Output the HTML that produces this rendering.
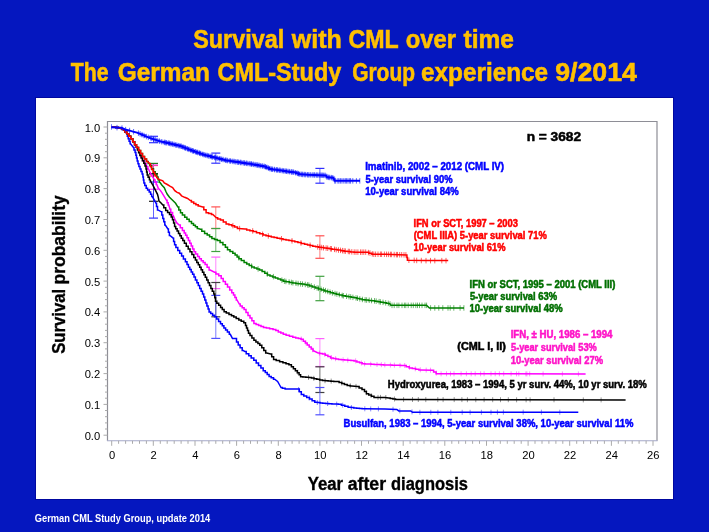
<!DOCTYPE html>
<html><head><meta charset="utf-8"><style>
html,body{margin:0;padding:0;background:#0517bf;width:709px;height:532px;overflow:hidden}
svg{display:block;will-change:transform}
text{font-family:"Liberation Sans",sans-serif}
.tt{font-size:25px;font-weight:bold;fill:#ffc000;stroke:#ffc000;stroke-width:0.55px}
.ft{font-size:10.4px;font-weight:bold;fill:#ffffff}
.tk{font-size:11.2px;fill:#000}
.ax{font-size:18px;font-weight:bold;fill:#000;stroke:#000;stroke-width:0.35px}
.an{font-size:10.3px;font-weight:bold}
.nn{font-size:13px;font-weight:bold}
</style></head><body>
<svg width="709" height="532" viewBox="0 0 709 532">
<rect x="0" y="0" width="709" height="532" fill="#0517bf"/>
<rect x="35.5" y="97.5" width="638" height="402" fill="none" stroke="#0008a0" stroke-width="1"/>
<rect x="36" y="98" width="637" height="401" fill="#ffffff"/>
<text x="193.22" y="47.6" class="tt" fill="#ffc000" textLength="90.92" lengthAdjust="spacingAndGlyphs">Survival</text><text x="291.77" y="47.6" class="tt" fill="#ffc000" textLength="49.99" lengthAdjust="spacingAndGlyphs">with</text><text x="348.45" y="47.6" class="tt" fill="#ffc000" textLength="50.17" lengthAdjust="spacingAndGlyphs">CML</text><text x="405.77" y="47.6" class="tt" fill="#ffc000" textLength="50.19" lengthAdjust="spacingAndGlyphs">over</text><text x="463.48" y="47.6" class="tt" fill="#ffc000" textLength="50.48" lengthAdjust="spacingAndGlyphs">time</text>
<text x="70.76" y="80.5" class="tt" fill="#ffc000" textLength="37.88" lengthAdjust="spacingAndGlyphs">The</text><text x="117.7" y="80.5" class="tt" fill="#ffc000" textLength="92.22" lengthAdjust="spacingAndGlyphs">German</text><text x="217.44" y="80.5" class="tt" fill="#ffc000" textLength="123.85" lengthAdjust="spacingAndGlyphs">CML-Study</text><text x="352.14" y="80.5" class="tt" fill="#ffc000" textLength="62.86" lengthAdjust="spacingAndGlyphs">Group</text><text x="420.95" y="80.5" class="tt" fill="#ffc000" textLength="127.19" lengthAdjust="spacingAndGlyphs">experience</text><text x="555.17" y="80.5" class="tt" fill="#ffc000" textLength="81.68" lengthAdjust="spacingAndGlyphs">9/2014</text>
<text x="34.83" y="522.4" class="ft" fill="#ffffff" textLength="175.41" lengthAdjust="spacingAndGlyphs">German CML Study Group, update 2014</text>
<path d="M107.5 440.8V121.5H657V440.8" fill="none" stroke="#8e8e96" stroke-width="1.2"/><path d="M106.9 440.8H657.6" stroke="#a4a8c8" stroke-width="1.1"/>
<line x1="111.7" y1="440.8" x2="111.7" y2="445.8" stroke="#aaa" stroke-width="1"/><line x1="118.6" y1="440.8" x2="118.6" y2="443.8" stroke="#aaa" stroke-width="1"/><line x1="125.6" y1="440.8" x2="125.6" y2="443.8" stroke="#aaa" stroke-width="1"/><line x1="132.5" y1="440.8" x2="132.5" y2="443.8" stroke="#aaa" stroke-width="1"/><line x1="139.5" y1="440.8" x2="139.5" y2="443.8" stroke="#aaa" stroke-width="1"/><line x1="146.4" y1="440.8" x2="146.4" y2="443.8" stroke="#aaa" stroke-width="1"/><line x1="153.3" y1="440.8" x2="153.3" y2="445.8" stroke="#aaa" stroke-width="1"/><line x1="160.3" y1="440.8" x2="160.3" y2="443.8" stroke="#aaa" stroke-width="1"/><line x1="167.2" y1="440.8" x2="167.2" y2="443.8" stroke="#aaa" stroke-width="1"/><line x1="174.2" y1="440.8" x2="174.2" y2="443.8" stroke="#aaa" stroke-width="1"/><line x1="181.1" y1="440.8" x2="181.1" y2="443.8" stroke="#aaa" stroke-width="1"/><line x1="188.0" y1="440.8" x2="188.0" y2="443.8" stroke="#aaa" stroke-width="1"/><line x1="195.0" y1="440.8" x2="195.0" y2="445.8" stroke="#aaa" stroke-width="1"/><line x1="201.9" y1="440.8" x2="201.9" y2="443.8" stroke="#aaa" stroke-width="1"/><line x1="208.9" y1="440.8" x2="208.9" y2="443.8" stroke="#aaa" stroke-width="1"/><line x1="215.8" y1="440.8" x2="215.8" y2="443.8" stroke="#aaa" stroke-width="1"/><line x1="222.7" y1="440.8" x2="222.7" y2="443.8" stroke="#aaa" stroke-width="1"/><line x1="229.7" y1="440.8" x2="229.7" y2="443.8" stroke="#aaa" stroke-width="1"/><line x1="236.6" y1="440.8" x2="236.6" y2="445.8" stroke="#aaa" stroke-width="1"/><line x1="243.6" y1="440.8" x2="243.6" y2="443.8" stroke="#aaa" stroke-width="1"/><line x1="250.5" y1="440.8" x2="250.5" y2="443.8" stroke="#aaa" stroke-width="1"/><line x1="257.4" y1="440.8" x2="257.4" y2="443.8" stroke="#aaa" stroke-width="1"/><line x1="264.4" y1="440.8" x2="264.4" y2="443.8" stroke="#aaa" stroke-width="1"/><line x1="271.3" y1="440.8" x2="271.3" y2="443.8" stroke="#aaa" stroke-width="1"/><line x1="278.3" y1="440.8" x2="278.3" y2="445.8" stroke="#aaa" stroke-width="1"/><line x1="285.2" y1="440.8" x2="285.2" y2="443.8" stroke="#aaa" stroke-width="1"/><line x1="292.1" y1="440.8" x2="292.1" y2="443.8" stroke="#aaa" stroke-width="1"/><line x1="299.1" y1="440.8" x2="299.1" y2="443.8" stroke="#aaa" stroke-width="1"/><line x1="306.0" y1="440.8" x2="306.0" y2="443.8" stroke="#aaa" stroke-width="1"/><line x1="313.0" y1="440.8" x2="313.0" y2="443.8" stroke="#aaa" stroke-width="1"/><line x1="319.9" y1="440.8" x2="319.9" y2="445.8" stroke="#aaa" stroke-width="1"/><line x1="326.8" y1="440.8" x2="326.8" y2="443.8" stroke="#aaa" stroke-width="1"/><line x1="333.8" y1="440.8" x2="333.8" y2="443.8" stroke="#aaa" stroke-width="1"/><line x1="340.7" y1="440.8" x2="340.7" y2="443.8" stroke="#aaa" stroke-width="1"/><line x1="347.7" y1="440.8" x2="347.7" y2="443.8" stroke="#aaa" stroke-width="1"/><line x1="354.6" y1="440.8" x2="354.6" y2="443.8" stroke="#aaa" stroke-width="1"/><line x1="361.5" y1="440.8" x2="361.5" y2="445.8" stroke="#aaa" stroke-width="1"/><line x1="368.5" y1="440.8" x2="368.5" y2="443.8" stroke="#aaa" stroke-width="1"/><line x1="375.4" y1="440.8" x2="375.4" y2="443.8" stroke="#aaa" stroke-width="1"/><line x1="382.4" y1="440.8" x2="382.4" y2="443.8" stroke="#aaa" stroke-width="1"/><line x1="389.3" y1="440.8" x2="389.3" y2="443.8" stroke="#aaa" stroke-width="1"/><line x1="396.2" y1="440.8" x2="396.2" y2="443.8" stroke="#aaa" stroke-width="1"/><line x1="403.2" y1="440.8" x2="403.2" y2="445.8" stroke="#aaa" stroke-width="1"/><line x1="410.1" y1="440.8" x2="410.1" y2="443.8" stroke="#aaa" stroke-width="1"/><line x1="417.1" y1="440.8" x2="417.1" y2="443.8" stroke="#aaa" stroke-width="1"/><line x1="424.0" y1="440.8" x2="424.0" y2="443.8" stroke="#aaa" stroke-width="1"/><line x1="430.9" y1="440.8" x2="430.9" y2="443.8" stroke="#aaa" stroke-width="1"/><line x1="437.9" y1="440.8" x2="437.9" y2="443.8" stroke="#aaa" stroke-width="1"/><line x1="444.8" y1="440.8" x2="444.8" y2="445.8" stroke="#aaa" stroke-width="1"/><line x1="451.8" y1="440.8" x2="451.8" y2="443.8" stroke="#aaa" stroke-width="1"/><line x1="458.7" y1="440.8" x2="458.7" y2="443.8" stroke="#aaa" stroke-width="1"/><line x1="465.6" y1="440.8" x2="465.6" y2="443.8" stroke="#aaa" stroke-width="1"/><line x1="472.6" y1="440.8" x2="472.6" y2="443.8" stroke="#aaa" stroke-width="1"/><line x1="479.5" y1="440.8" x2="479.5" y2="443.8" stroke="#aaa" stroke-width="1"/><line x1="486.5" y1="440.8" x2="486.5" y2="445.8" stroke="#aaa" stroke-width="1"/><line x1="493.4" y1="440.8" x2="493.4" y2="443.8" stroke="#aaa" stroke-width="1"/><line x1="500.3" y1="440.8" x2="500.3" y2="443.8" stroke="#aaa" stroke-width="1"/><line x1="507.3" y1="440.8" x2="507.3" y2="443.8" stroke="#aaa" stroke-width="1"/><line x1="514.2" y1="440.8" x2="514.2" y2="443.8" stroke="#aaa" stroke-width="1"/><line x1="521.2" y1="440.8" x2="521.2" y2="443.8" stroke="#aaa" stroke-width="1"/><line x1="528.1" y1="440.8" x2="528.1" y2="445.8" stroke="#aaa" stroke-width="1"/><line x1="535.0" y1="440.8" x2="535.0" y2="443.8" stroke="#aaa" stroke-width="1"/><line x1="542.0" y1="440.8" x2="542.0" y2="443.8" stroke="#aaa" stroke-width="1"/><line x1="548.9" y1="440.8" x2="548.9" y2="443.8" stroke="#aaa" stroke-width="1"/><line x1="555.9" y1="440.8" x2="555.9" y2="443.8" stroke="#aaa" stroke-width="1"/><line x1="562.8" y1="440.8" x2="562.8" y2="443.8" stroke="#aaa" stroke-width="1"/><line x1="569.7" y1="440.8" x2="569.7" y2="445.8" stroke="#aaa" stroke-width="1"/><line x1="576.7" y1="440.8" x2="576.7" y2="443.8" stroke="#aaa" stroke-width="1"/><line x1="583.6" y1="440.8" x2="583.6" y2="443.8" stroke="#aaa" stroke-width="1"/><line x1="590.6" y1="440.8" x2="590.6" y2="443.8" stroke="#aaa" stroke-width="1"/><line x1="597.5" y1="440.8" x2="597.5" y2="443.8" stroke="#aaa" stroke-width="1"/><line x1="604.4" y1="440.8" x2="604.4" y2="443.8" stroke="#aaa" stroke-width="1"/><line x1="611.4" y1="440.8" x2="611.4" y2="445.8" stroke="#aaa" stroke-width="1"/><line x1="618.3" y1="440.8" x2="618.3" y2="443.8" stroke="#aaa" stroke-width="1"/><line x1="625.3" y1="440.8" x2="625.3" y2="443.8" stroke="#aaa" stroke-width="1"/><line x1="632.2" y1="440.8" x2="632.2" y2="443.8" stroke="#aaa" stroke-width="1"/><line x1="639.1" y1="440.8" x2="639.1" y2="443.8" stroke="#aaa" stroke-width="1"/><line x1="646.1" y1="440.8" x2="646.1" y2="443.8" stroke="#aaa" stroke-width="1"/><line x1="653.0" y1="440.8" x2="653.0" y2="445.8" stroke="#aaa" stroke-width="1"/><line x1="103.5" y1="435.2" x2="107.5" y2="435.2" stroke="#aaa" stroke-width="1"/><line x1="105.0" y1="429.0" x2="107.5" y2="429.0" stroke="#aaa" stroke-width="1"/><line x1="105.0" y1="422.9" x2="107.5" y2="422.9" stroke="#aaa" stroke-width="1"/><line x1="105.0" y1="416.7" x2="107.5" y2="416.7" stroke="#aaa" stroke-width="1"/><line x1="105.0" y1="410.5" x2="107.5" y2="410.5" stroke="#aaa" stroke-width="1"/><line x1="103.5" y1="404.4" x2="107.5" y2="404.4" stroke="#aaa" stroke-width="1"/><line x1="105.0" y1="398.2" x2="107.5" y2="398.2" stroke="#aaa" stroke-width="1"/><line x1="105.0" y1="392.1" x2="107.5" y2="392.1" stroke="#aaa" stroke-width="1"/><line x1="105.0" y1="385.9" x2="107.5" y2="385.9" stroke="#aaa" stroke-width="1"/><line x1="105.0" y1="379.7" x2="107.5" y2="379.7" stroke="#aaa" stroke-width="1"/><line x1="103.5" y1="373.6" x2="107.5" y2="373.6" stroke="#aaa" stroke-width="1"/><line x1="105.0" y1="367.4" x2="107.5" y2="367.4" stroke="#aaa" stroke-width="1"/><line x1="105.0" y1="361.2" x2="107.5" y2="361.2" stroke="#aaa" stroke-width="1"/><line x1="105.0" y1="355.1" x2="107.5" y2="355.1" stroke="#aaa" stroke-width="1"/><line x1="105.0" y1="348.9" x2="107.5" y2="348.9" stroke="#aaa" stroke-width="1"/><line x1="103.5" y1="342.7" x2="107.5" y2="342.7" stroke="#aaa" stroke-width="1"/><line x1="105.0" y1="336.6" x2="107.5" y2="336.6" stroke="#aaa" stroke-width="1"/><line x1="105.0" y1="330.4" x2="107.5" y2="330.4" stroke="#aaa" stroke-width="1"/><line x1="105.0" y1="324.2" x2="107.5" y2="324.2" stroke="#aaa" stroke-width="1"/><line x1="105.0" y1="318.1" x2="107.5" y2="318.1" stroke="#aaa" stroke-width="1"/><line x1="103.5" y1="311.9" x2="107.5" y2="311.9" stroke="#aaa" stroke-width="1"/><line x1="105.0" y1="305.8" x2="107.5" y2="305.8" stroke="#aaa" stroke-width="1"/><line x1="105.0" y1="299.6" x2="107.5" y2="299.6" stroke="#aaa" stroke-width="1"/><line x1="105.0" y1="293.4" x2="107.5" y2="293.4" stroke="#aaa" stroke-width="1"/><line x1="105.0" y1="287.3" x2="107.5" y2="287.3" stroke="#aaa" stroke-width="1"/><line x1="103.5" y1="281.1" x2="107.5" y2="281.1" stroke="#aaa" stroke-width="1"/><line x1="105.0" y1="274.9" x2="107.5" y2="274.9" stroke="#aaa" stroke-width="1"/><line x1="105.0" y1="268.8" x2="107.5" y2="268.8" stroke="#aaa" stroke-width="1"/><line x1="105.0" y1="262.6" x2="107.5" y2="262.6" stroke="#aaa" stroke-width="1"/><line x1="105.0" y1="256.4" x2="107.5" y2="256.4" stroke="#aaa" stroke-width="1"/><line x1="103.5" y1="250.3" x2="107.5" y2="250.3" stroke="#aaa" stroke-width="1"/><line x1="105.0" y1="244.1" x2="107.5" y2="244.1" stroke="#aaa" stroke-width="1"/><line x1="105.0" y1="238.0" x2="107.5" y2="238.0" stroke="#aaa" stroke-width="1"/><line x1="105.0" y1="231.8" x2="107.5" y2="231.8" stroke="#aaa" stroke-width="1"/><line x1="105.0" y1="225.6" x2="107.5" y2="225.6" stroke="#aaa" stroke-width="1"/><line x1="103.5" y1="219.5" x2="107.5" y2="219.5" stroke="#aaa" stroke-width="1"/><line x1="105.0" y1="213.3" x2="107.5" y2="213.3" stroke="#aaa" stroke-width="1"/><line x1="105.0" y1="207.1" x2="107.5" y2="207.1" stroke="#aaa" stroke-width="1"/><line x1="105.0" y1="201.0" x2="107.5" y2="201.0" stroke="#aaa" stroke-width="1"/><line x1="105.0" y1="194.8" x2="107.5" y2="194.8" stroke="#aaa" stroke-width="1"/><line x1="103.5" y1="188.6" x2="107.5" y2="188.6" stroke="#aaa" stroke-width="1"/><line x1="105.0" y1="182.5" x2="107.5" y2="182.5" stroke="#aaa" stroke-width="1"/><line x1="105.0" y1="176.3" x2="107.5" y2="176.3" stroke="#aaa" stroke-width="1"/><line x1="105.0" y1="170.1" x2="107.5" y2="170.1" stroke="#aaa" stroke-width="1"/><line x1="105.0" y1="164.0" x2="107.5" y2="164.0" stroke="#aaa" stroke-width="1"/><line x1="103.5" y1="157.8" x2="107.5" y2="157.8" stroke="#aaa" stroke-width="1"/><line x1="105.0" y1="151.7" x2="107.5" y2="151.7" stroke="#aaa" stroke-width="1"/><line x1="105.0" y1="145.5" x2="107.5" y2="145.5" stroke="#aaa" stroke-width="1"/><line x1="105.0" y1="139.3" x2="107.5" y2="139.3" stroke="#aaa" stroke-width="1"/><line x1="105.0" y1="133.2" x2="107.5" y2="133.2" stroke="#aaa" stroke-width="1"/><line x1="103.5" y1="127.0" x2="107.5" y2="127.0" stroke="#aaa" stroke-width="1"/>
<text x="112.0" y="459.2" text-anchor="middle" class="tk">0</text><text x="153.6" y="459.2" text-anchor="middle" class="tk">2</text><text x="195.3" y="459.2" text-anchor="middle" class="tk">4</text><text x="236.9" y="459.2" text-anchor="middle" class="tk">6</text><text x="278.6" y="459.2" text-anchor="middle" class="tk">8</text><text x="320.2" y="459.2" text-anchor="middle" class="tk">10</text><text x="361.8" y="459.2" text-anchor="middle" class="tk">12</text><text x="403.5" y="459.2" text-anchor="middle" class="tk">14</text><text x="445.1" y="459.2" text-anchor="middle" class="tk">16</text><text x="486.8" y="459.2" text-anchor="middle" class="tk">18</text><text x="528.4" y="459.2" text-anchor="middle" class="tk">20</text><text x="570.0" y="459.2" text-anchor="middle" class="tk">22</text><text x="611.7" y="459.2" text-anchor="middle" class="tk">24</text><text x="653.3" y="459.2" text-anchor="middle" class="tk">26</text>
<text x="100.2" y="439.7" text-anchor="end" class="tk">0.0</text><text x="100.2" y="408.9" text-anchor="end" class="tk">0.1</text><text x="100.2" y="378.1" text-anchor="end" class="tk">0.2</text><text x="100.2" y="347.2" text-anchor="end" class="tk">0.3</text><text x="100.2" y="316.4" text-anchor="end" class="tk">0.4</text><text x="100.2" y="285.6" text-anchor="end" class="tk">0.5</text><text x="100.2" y="254.8" text-anchor="end" class="tk">0.6</text><text x="100.2" y="224.0" text-anchor="end" class="tk">0.7</text><text x="100.2" y="193.1" text-anchor="end" class="tk">0.8</text><text x="100.2" y="162.3" text-anchor="end" class="tk">0.9</text><text x="100.2" y="131.5" text-anchor="end" class="tk">1.0</text>
<text x="-353.79" y="0" class="ax" fill="#000" textLength="64.87" lengthAdjust="spacingAndGlyphs" transform="translate(65,0) rotate(-90)">Survival</text><text x="-284.48" y="0" class="ax" fill="#000" textLength="89.2" lengthAdjust="spacingAndGlyphs" transform="translate(65,0) rotate(-90)">probability</text><text x="307.67" y="490" class="ax" fill="#000" textLength="35.41" lengthAdjust="spacingAndGlyphs">Year</text><text x="347.68" y="490" class="ax" fill="#000" textLength="38.42" lengthAdjust="spacingAndGlyphs">after</text><text x="391.02" y="490" class="ax" fill="#000" textLength="76.96" lengthAdjust="spacingAndGlyphs">diagnosis</text>
<line x1="153.5" y1="136.3" x2="153.5" y2="142.7" stroke="#3030ff" stroke-width="1" opacity="0.75"/><line x1="149.0" y1="136.3" x2="158.0" y2="136.3" stroke="#3030ff" stroke-width="1.2"/><line x1="149.0" y1="142.7" x2="158.0" y2="142.7" stroke="#3030ff" stroke-width="1.2"/><line x1="215.8" y1="153.1" x2="215.8" y2="163.2" stroke="#3030ff" stroke-width="1" opacity="0.75"/><line x1="211.3" y1="153.1" x2="220.3" y2="153.1" stroke="#3030ff" stroke-width="1.2"/><line x1="211.3" y1="163.2" x2="220.3" y2="163.2" stroke="#3030ff" stroke-width="1.2"/><line x1="319.9" y1="168.4" x2="319.9" y2="183.2" stroke="#3030ff" stroke-width="1" opacity="0.75"/><line x1="315.4" y1="168.4" x2="324.4" y2="168.4" stroke="#3030ff" stroke-width="1.2"/><line x1="315.4" y1="183.2" x2="324.4" y2="183.2" stroke="#3030ff" stroke-width="1.2"/><line x1="153.5" y1="165.5" x2="153.5" y2="176" stroke="#ff4040" stroke-width="1" opacity="0.75"/><line x1="149.0" y1="165.5" x2="158.0" y2="165.5" stroke="#ff4040" stroke-width="1.2"/><line x1="149.0" y1="176" x2="158.0" y2="176" stroke="#ff4040" stroke-width="1.2"/><line x1="215.8" y1="206.9" x2="215.8" y2="228.5" stroke="#ff5050" stroke-width="1" opacity="0.75"/><line x1="211.3" y1="206.9" x2="220.3" y2="206.9" stroke="#ff5050" stroke-width="1.2"/><line x1="211.3" y1="228.5" x2="220.3" y2="228.5" stroke="#ff5050" stroke-width="1.2"/><line x1="319.9" y1="235.8" x2="319.9" y2="258.3" stroke="#ff5050" stroke-width="1" opacity="0.75"/><line x1="315.4" y1="235.8" x2="324.4" y2="235.8" stroke="#ff5050" stroke-width="1.2"/><line x1="315.4" y1="258.3" x2="324.4" y2="258.3" stroke="#ff5050" stroke-width="1.2"/><line x1="153.5" y1="163.4" x2="153.5" y2="174" stroke="#208020" stroke-width="1" opacity="0.75"/><line x1="149.0" y1="163.4" x2="158.0" y2="163.4" stroke="#208020" stroke-width="1.2"/><line x1="149.0" y1="174" x2="158.0" y2="174" stroke="#208020" stroke-width="1.2"/><line x1="215.8" y1="228.5" x2="215.8" y2="251.5" stroke="#40a040" stroke-width="1" opacity="0.75"/><line x1="211.3" y1="228.5" x2="220.3" y2="228.5" stroke="#40a040" stroke-width="1.2"/><line x1="211.3" y1="251.5" x2="220.3" y2="251.5" stroke="#40a040" stroke-width="1.2"/><line x1="319.9" y1="276.3" x2="319.9" y2="300.7" stroke="#40a040" stroke-width="1" opacity="0.75"/><line x1="315.4" y1="276.3" x2="324.4" y2="276.3" stroke="#40a040" stroke-width="1.2"/><line x1="315.4" y1="300.7" x2="324.4" y2="300.7" stroke="#40a040" stroke-width="1.2"/><line x1="153.5" y1="165" x2="153.5" y2="189.3" stroke="#ff40ff" stroke-width="1" opacity="0.75"/><line x1="149.0" y1="165" x2="158.0" y2="165" stroke="#ff40ff" stroke-width="1.2"/><line x1="149.0" y1="189.3" x2="158.0" y2="189.3" stroke="#ff40ff" stroke-width="1.2"/><line x1="215.8" y1="257.1" x2="215.8" y2="288.6" stroke="#ff60ff" stroke-width="1" opacity="0.75"/><line x1="211.3" y1="257.1" x2="220.3" y2="257.1" stroke="#ff60ff" stroke-width="1.2"/><line x1="211.3" y1="288.6" x2="220.3" y2="288.6" stroke="#ff60ff" stroke-width="1.2"/><line x1="319.9" y1="338.6" x2="319.9" y2="366.5" stroke="#ff60ff" stroke-width="1" opacity="0.75"/><line x1="315.4" y1="338.6" x2="324.4" y2="338.6" stroke="#ff60ff" stroke-width="1.2"/><line x1="315.4" y1="366.5" x2="324.4" y2="366.5" stroke="#ff60ff" stroke-width="1.2"/><line x1="153.5" y1="173.6" x2="153.5" y2="201.3" stroke="#202020" stroke-width="1" opacity="0.75"/><line x1="149.0" y1="173.6" x2="158.0" y2="173.6" stroke="#202020" stroke-width="1.2"/><line x1="149.0" y1="201.3" x2="158.0" y2="201.3" stroke="#202020" stroke-width="1.2"/><line x1="215.8" y1="282.5" x2="215.8" y2="316.8" stroke="#404040" stroke-width="1" opacity="0.75"/><line x1="211.3" y1="282.5" x2="220.3" y2="282.5" stroke="#404040" stroke-width="1.2"/><line x1="211.3" y1="316.8" x2="220.3" y2="316.8" stroke="#404040" stroke-width="1.2"/><line x1="319.9" y1="366.8" x2="319.9" y2="392.5" stroke="#404040" stroke-width="1" opacity="0.75"/><line x1="315.4" y1="366.8" x2="324.4" y2="366.8" stroke="#404040" stroke-width="1.2"/><line x1="315.4" y1="392.5" x2="324.4" y2="392.5" stroke="#404040" stroke-width="1.2"/><line x1="153.5" y1="182" x2="153.5" y2="218.1" stroke="#3030ff" stroke-width="1" opacity="0.75"/><line x1="149.0" y1="182" x2="158.0" y2="182" stroke="#3030ff" stroke-width="1.2"/><line x1="149.0" y1="218.1" x2="158.0" y2="218.1" stroke="#3030ff" stroke-width="1.2"/><line x1="215.8" y1="295.4" x2="215.8" y2="338.4" stroke="#5050ff" stroke-width="1" opacity="0.75"/><line x1="211.3" y1="295.4" x2="220.3" y2="295.4" stroke="#5050ff" stroke-width="1.2"/><line x1="211.3" y1="338.4" x2="220.3" y2="338.4" stroke="#5050ff" stroke-width="1.2"/><line x1="319.9" y1="387.5" x2="319.9" y2="414.8" stroke="#5050ff" stroke-width="1" opacity="0.75"/><line x1="315.4" y1="387.5" x2="324.4" y2="387.5" stroke="#5050ff" stroke-width="1.2"/><line x1="315.4" y1="414.8" x2="324.4" y2="414.8" stroke="#5050ff" stroke-width="1.2"/>
<path d="M298.6 387.0v5M309.2 395.5v5M317.3 400.0v5M327.6 401.0v5M336.7 401.6v5M342.7 402.7v5M351.4 405.0v5M364.8 406.3v5M370.7 406.4v5M378.4 406.4v5M393.0 406.8v5M399.8 408.4v5M412.0 409.4v5M419.9 409.8v5M430.8 409.8v5M437.9 409.8v5M450.8 409.8v5M462.2 409.8v5M470.1 409.8v5M481.4 409.8v5M491.0 409.8v5M497.4 409.7v5M503.4 409.7v5M523.2 409.7v5M541.4 409.7v5M559.8 409.7v5" stroke="#3a3aff" stroke-width="1" opacity="0.6" fill="none"/>
<polyline points="111.5,126.9 112.9,126.9 112.9,127.2 115.7,127.2 115.7,127.6 118.4,127.6 118.4,127.9 119.8,127.9 123.8,129.9 126.8,133.8 127.3,133.8 127.3,136.3 128.2,136.3 128.2,138.8 128.7,138.8 129.1,138.8 129.1,141.3 130.1,141.3 130.1,143.8 130.5,143.8 133.5,147.5 134.0,147.5 134.0,150.1 135.1,150.1 135.1,152.6 135.6,152.6 135.9,152.6 135.9,155.3 136.5,155.3 136.5,158.0 136.8,158.0 137.2,158.0 137.2,160.9 138.0,160.9 138.0,163.8 138.4,163.8 138.9,163.8 138.9,166.4 140.0,166.4 140.0,169.0 140.5,169.0 141.0,169.0 141.0,171.6 142.1,171.6 142.1,174.1 142.6,174.1 142.9,174.1 142.9,177.0 143.4,177.0 143.4,180.0 143.9,180.0 143.9,182.9 144.2,182.9 144.8,182.9 144.8,185.6 146.2,185.6 146.2,188.2 146.8,188.2 147.6,188.2 147.6,190.1 149.2,190.1 149.2,192.1 150.0,192.1 150.6,192.1 150.6,194.3 151.7,194.3 151.7,196.6 152.3,196.6 154.5,200.3 156.0,203.3 156.5,203.3 156.5,206.6 157.5,206.6 157.5,209.9 158.0,209.9 161.3,211.8 161.8,211.8 161.8,215.1 162.8,215.1 162.8,218.4 163.3,218.4 163.8,218.4 163.8,221.7 164.8,221.7 164.8,225.0 165.3,225.0 167.9,228.9 168.4,228.9 168.4,232.2 169.4,232.2 169.4,235.5 169.9,235.5 173.2,238.2 173.6,238.2 173.6,241.4 174.6,241.4 174.6,244.7 175.0,244.7 175.9,244.7 175.9,247.5 177.8,247.5 177.8,250.4 179.7,250.4 179.7,253.2 180.6,253.2 181.6,253.2 181.6,256.0 183.4,256.0 183.4,258.9 185.4,258.9 185.4,261.7 186.3,261.7 187.0,261.7 187.0,264.5 188.4,264.5 188.4,267.3 189.1,267.3 189.8,267.3 189.8,269.6 191.2,269.6 191.2,272.0 192.6,272.0 192.6,274.3 193.3,274.3 194.0,274.3 194.0,277.1 195.4,277.1 195.4,280.0 196.9,280.0 196.9,282.8 197.6,282.8 198.3,282.8 198.3,285.6 199.7,285.6 199.7,288.4 200.4,288.4 201.1,288.4 201.1,291.2 202.5,291.2 202.5,294.1 203.2,294.1 203.7,294.1 203.7,297.1 204.8,297.1 204.8,300.0 205.3,300.0 205.9,300.0 205.9,303.0 206.9,303.0 206.9,305.9 208.1,305.9 208.1,308.9 209.1,308.9 209.1,311.9 209.7,311.9 210.7,311.9 210.7,313.5 212.6,313.5 212.6,315.2 214.6,315.2 214.6,316.8 215.6,316.8 216.6,316.8 216.6,319.1 218.6,319.1 218.6,321.4 220.5,321.4 220.5,323.7 221.5,323.7 222.3,323.7 222.3,325.8 223.9,325.8 223.9,327.9 225.6,327.9 225.6,330.0 226.4,330.0 227.4,330.0 227.4,332.1 229.3,332.1 229.3,334.3 230.3,334.3 232.5,338.6 235.7,338.6 236.5,338.6 236.5,341.9 238.2,341.9 238.2,345.1 239.0,345.1 240.1,345.1 240.1,347.8 242.2,347.8 242.2,350.5 243.3,350.5 245.0,351.6 246.2,351.6 246.2,353.7 248.8,353.7 248.8,355.8 250.0,355.8 251.2,355.8 251.2,358.0 253.8,358.0 253.8,360.2 255.0,360.2 256.2,360.2 256.2,362.9 258.5,362.9 258.5,365.5 259.7,365.5 260.9,365.5 260.9,368.1 263.2,368.1 263.2,370.7 264.4,370.7 265.3,370.7 265.3,372.6 267.2,372.6 267.2,374.5 269.1,374.5 269.1,376.4 270.0,376.4 271.2,376.4 271.2,377.8 273.5,377.8 273.5,379.2 274.7,379.2 277.6,381.5 279.9,385.5 281.0,387.5 282.4,387.5 282.4,388.3 285.1,388.3 285.1,389.1 286.5,389.1 298.3,389.1 299.3,389.1 299.3,391.8 301.3,391.8 301.3,394.4 302.3,394.4 303.8,394.4 303.8,395.9 306.7,395.9 306.7,397.4 308.2,397.4 309.5,397.4 309.5,399.0 312.1,399.0 312.1,400.7 314.8,400.7 314.8,402.3 316.1,402.3 317.4,402.3 317.4,402.6 320.1,402.6 320.1,403.0 322.7,403.0 322.7,403.3 324.0,403.3 325.6,403.3 325.6,403.5 328.7,403.5 328.7,403.7 331.9,403.7 331.9,403.9 335.1,403.9 335.1,404.1 338.2,404.1 338.2,404.3 339.8,404.3 341.4,404.3 341.4,405.3 344.8,405.3 344.8,406.3 348.1,406.3 348.1,407.3 349.7,407.3 351.1,407.3 351.1,407.6 353.8,407.6 353.8,407.9 356.6,407.9 356.6,408.2 359.4,408.2 359.4,408.5 362.1,408.5 362.1,408.8 363.5,408.8 385.0,409.0 396.8,409.4 398.8,410.9 410.7,410.9 412.6,412.3 578.3,412.2" fill="none" stroke="#0000ff" stroke-width="1.5" stroke-linejoin="miter"/>
<path d="M301.3 336.5v5M305.9 340.3v5M312.8 347.3v5M319.4 350.7v5M324.8 351.9v5M331.5 355.2v5M335.6 356.2v5M343.1 357.3v5M347.8 357.7v5M355.6 358.4v5M361.4 360.5v5M364.6 361.4v5M370.7 361.7v5M377.0 362.0v5M381.4 362.2v5M384.8 362.4v5M390.4 362.6v5M394.4 362.7v5M400.0 362.9v5M404.7 363.0v5M409.6 364.9v5M415.3 366.3v5M420.3 367.3v5M426.2 367.6v5M430.5 367.7v5M436.3 370.6v5M441.1 371.3v5M446.5 371.3v5M450.5 371.3v5M454.0 371.3v5M461.1 371.3v5M466.4 371.3v5M471.2 371.3v5M475.2 371.3v5M480.6 371.3v5M484.1 371.3v5M491.0 371.3v5M495.2 371.3v5M499.4 371.3v5M503.7 371.3v5M511.1 371.3v5M516.5 371.4v5M518.8 371.4v5M525.9 371.4v5M529.7 371.4v5M526.9 371.4v5M543.1 371.4v5M562.4 371.4v5M578.4 371.4v5" stroke="#ff40ff" stroke-width="1" opacity="0.6" fill="none"/>
<polyline points="111.5,126.9 112.9,126.9 112.9,127.2 115.7,127.2 115.7,127.6 118.4,127.6 118.4,127.9 119.8,127.9 123.8,129.9 124.8,129.9 124.8,131.9 126.7,131.9 126.7,133.8 127.7,133.8 128.7,133.8 128.7,136.3 130.7,136.3 130.7,138.8 131.7,138.8 132.7,138.8 132.7,141.8 134.6,141.8 134.6,144.7 135.6,144.7 136.3,144.7 136.3,147.3 137.8,147.3 137.8,150.0 138.5,150.0 139.0,150.0 139.0,152.5 140.0,152.5 140.0,155.1 141.0,155.1 141.0,157.6 141.5,157.6 142.6,157.6 142.6,160.7 144.6,160.7 144.6,163.8 145.7,163.8 146.4,163.8 146.4,166.4 147.8,166.4 147.8,169.0 148.5,169.0 150.0,172.5 152.3,176.3 154.5,180.0 155.1,180.0 155.1,182.2 156.2,182.2 156.2,184.5 156.8,184.5 158.3,188.3 160.5,190.6 162.0,192.8 164.3,196.6 166.5,200.3 167.1,200.3 167.1,202.7 168.2,202.7 168.2,205.0 168.8,205.0 170.0,209.2 170.8,209.2 170.8,212.5 172.6,212.5 172.6,215.8 173.4,215.8 175.0,219.7 176.8,222.9 179.2,225.0 180.3,225.0 180.3,227.8 182.4,227.8 182.4,230.6 183.5,230.6 184.2,230.6 184.2,233.0 185.6,233.0 185.6,235.3 187.0,235.3 187.0,237.7 187.7,237.7 188.4,237.7 188.4,240.5 189.8,240.5 189.8,243.3 190.5,243.3 191.2,243.3 191.2,246.1 192.6,246.1 192.6,249.0 194.0,249.0 194.0,251.8 194.7,251.8 195.6,251.8 195.6,254.1 197.6,254.1 197.6,256.5 199.4,256.5 199.4,258.8 200.4,258.8 201.3,258.8 201.3,260.7 203.2,260.7 203.2,262.6 205.1,262.6 205.1,264.5 206.0,264.5 207.1,264.5 207.1,267.3 209.1,267.3 209.1,270.1 210.2,270.1 214.5,272.2 215.9,272.2 215.9,274.0 218.7,274.0 218.7,275.8 220.1,275.8 221.2,275.8 221.2,278.6 223.2,278.6 223.2,281.4 224.3,281.4 225.4,281.4 225.4,284.2 227.5,284.2 227.5,287.0 228.6,287.0 229.7,287.0 229.7,289.9 231.8,289.9 231.8,292.7 232.8,292.7 233.5,292.7 233.5,295.1 234.9,295.1 234.9,297.6 236.3,297.6 236.3,300.0 237.0,300.0 239.3,304.0 240.2,304.0 240.2,305.9 242.2,305.9 242.2,307.7 244.1,307.7 244.1,309.6 245.0,309.6 246.0,309.6 246.0,312.6 248.0,312.6 248.0,315.5 249.0,315.5 250.0,315.5 250.0,318.1 251.9,318.1 251.9,320.8 253.9,320.8 253.9,323.4 254.9,323.4 256.1,323.4 256.1,324.4 258.6,324.4 258.6,325.4 261.0,325.4 261.0,326.4 263.5,326.4 263.5,327.4 264.7,327.4 266.4,327.4 266.4,328.1 269.6,328.1 269.6,328.7 273.0,328.7 273.0,329.4 274.6,329.4 275.8,329.4 275.8,330.6 278.3,330.6 278.3,331.9 280.8,331.9 280.8,333.1 283.3,333.1 283.3,334.3 284.5,334.3 286.1,334.3 286.1,335.3 289.4,335.3 289.4,336.3 292.8,336.3 292.8,337.3 294.4,337.3 295.7,337.3 295.7,337.9 298.4,337.9 298.4,338.6 301.0,338.6 301.0,339.2 302.3,339.2 303.3,339.2 303.3,341.2 305.3,341.2 305.3,343.1 307.2,343.1 307.2,345.1 309.2,345.1 309.2,347.1 310.2,347.1 311.2,347.1 311.2,349.1 313.1,349.1 313.1,351.1 314.1,351.1 318.1,353.0 319.6,353.0 319.6,353.5 322.5,353.5 322.5,354.0 324.0,354.0 325.3,354.0 325.3,355.3 327.9,355.3 327.9,356.6 330.6,356.6 330.6,357.9 331.9,357.9 333.2,357.9 333.2,358.4 335.9,358.4 335.9,359.0 338.5,359.0 338.5,359.5 339.8,359.5 341.4,359.5 341.4,359.8 344.5,359.8 344.5,360.1 347.7,360.1 347.7,360.3 350.9,360.3 350.9,360.6 354.0,360.6 354.0,360.9 355.6,360.9 356.9,360.9 356.9,361.9 359.6,361.9 359.6,362.8 362.2,362.8 362.2,363.8 363.5,363.8 365.0,363.8 365.0,364.0 368.1,364.0 368.1,364.1 371.2,364.1 371.2,364.3 374.2,364.3 374.2,364.4 377.3,364.4 377.3,364.6 380.4,364.6 380.4,364.7 383.5,364.7 383.5,364.9 385.0,364.9 386.4,364.9 386.4,365.0 389.2,365.0 389.2,365.1 392.0,365.1 392.0,365.2 394.9,365.2 394.9,365.2 397.7,365.2 397.7,365.3 400.5,365.3 400.5,365.4 403.3,365.4 403.3,365.5 404.7,365.5 406.2,365.5 406.2,366.7 409.2,366.7 409.2,367.9 410.7,367.9 412.3,367.9 412.3,368.6 415.6,368.6 415.6,369.2 418.9,369.2 418.9,369.9 420.5,369.9 432.4,370.3 433.6,370.3 433.6,372.1 436.1,372.1 436.1,373.8 437.3,373.8 585.6,373.9" fill="none" stroke="#ff00ff" stroke-width="1.5" stroke-linejoin="miter"/>
<path d="M297.8 369.7v5M308.5 374.9v5M313.8 375.8v5M325.0 378.2v5M331.2 378.6v5M341.8 380.6v5M350.3 383.3v5M356.0 383.9v5M366.4 390.2v5M371.1 393.0v5M378.0 394.9v5M380.5 394.9v5M385.8 395.0v5M394.5 396.5v5M403.6 397.0v5M412.5 397.0v5M418.3 397.0v5M425.8 397.1v5M437.8 397.1v5M443.1 397.1v5M454.2 397.1v5M461.9 397.1v5M467.4 397.2v5M475.8 397.2v5M484.1 397.2v5M492.7 397.2v5M500.5 397.2v5M508.3 397.2v5M516.6 397.3v5M526.1 397.3v5M530.1 397.3v5M554.0 397.3v5M583.3 397.4v5M601.1 397.4v5" stroke="#444" stroke-width="1" opacity="0.55" fill="none"/>
<polyline points="111.5,126.9 112.9,126.9 112.9,127.2 115.7,127.2 115.7,127.6 118.4,127.6 118.4,127.9 119.8,127.9 123.8,129.9 124.8,129.9 124.8,131.9 126.7,131.9 126.7,133.8 127.7,133.8 128.7,133.8 128.7,136.3 130.7,136.3 130.7,138.8 131.7,138.8 132.7,138.8 132.7,141.8 134.6,141.8 134.6,144.7 135.6,144.7 136.2,144.7 136.2,147.3 137.4,147.3 137.4,150.0 138.0,150.0 138.6,150.0 138.6,152.8 139.9,152.8 139.9,155.5 140.5,155.5 141.2,155.5 141.2,158.1 142.4,158.1 142.4,160.7 143.1,160.7 143.8,160.7 143.8,163.3 145.0,163.3 145.0,165.9 145.7,165.9 146.0,165.9 146.0,168.9 146.6,168.9 146.6,172.0 147.2,172.0 147.2,175.0 147.5,175.0 148.1,175.0 148.1,177.3 149.4,177.3 149.4,179.7 150.0,179.7 151.5,183.0 153.0,185.3 154.5,188.3 156.0,191.3 157.5,194.3 158.3,197.3 159.0,201.1 161.3,203.3 162.8,205.0 163.8,205.0 163.8,207.8 165.7,207.8 165.7,210.5 166.6,210.5 167.6,210.5 167.6,212.5 169.5,212.5 169.5,214.5 170.5,214.5 171.2,214.5 171.2,217.1 172.5,217.1 172.5,219.7 173.2,219.7 173.6,219.7 173.6,223.1 174.6,223.1 174.6,226.4 175.0,226.4 175.7,226.4 175.7,228.8 177.1,228.8 177.1,231.1 178.5,231.1 178.5,233.5 179.2,233.5 179.9,233.5 179.9,235.8 181.3,235.8 181.3,238.2 182.8,238.2 182.8,240.5 183.5,240.5 184.4,240.5 184.4,243.3 186.3,243.3 186.3,246.2 188.2,246.2 188.2,249.0 189.1,249.0 190.0,249.0 190.0,251.8 191.9,251.8 191.9,254.6 193.8,254.6 193.8,257.4 194.7,257.4 195.4,257.4 195.4,259.9 196.8,259.9 196.8,262.4 198.3,262.4 198.3,264.8 199.7,264.8 199.7,267.3 200.4,267.3 201.1,267.3 201.1,269.8 202.5,269.8 202.5,272.2 203.9,272.2 203.9,274.7 205.3,274.7 205.3,277.2 206.0,277.2 206.7,277.2 206.7,280.0 208.1,280.0 208.1,282.8 209.5,282.8 209.5,285.6 210.2,285.6 210.9,285.6 210.9,288.4 212.3,288.4 212.3,291.3 213.8,291.3 213.8,294.1 214.5,294.1 214.8,294.1 214.8,297.7 215.5,297.7 215.5,301.3 215.8,301.3 216.8,301.3 216.8,303.3 218.7,303.3 218.7,305.3 219.7,305.3 220.6,305.3 220.6,307.5 222.3,307.5 222.3,309.6 224.1,309.6 224.1,311.8 225.0,311.8 226.3,311.8 226.3,313.1 229.0,313.1 229.0,314.5 230.3,314.5 231.5,314.5 231.5,315.8 233.8,315.8 233.8,317.1 235.0,317.1 236.2,317.1 236.2,318.5 238.8,318.5 238.8,319.9 241.2,319.9 241.2,321.3 243.8,321.3 243.8,322.7 245.0,322.7 245.5,322.7 245.5,325.4 246.5,325.4 246.5,328.0 247.5,328.0 247.5,330.6 248.5,330.6 248.5,333.3 249.0,333.3 250.0,333.3 250.0,335.6 251.9,335.6 251.9,337.9 253.9,337.9 253.9,340.2 254.9,340.2 255.9,340.2 255.9,341.9 257.9,341.9 257.9,343.5 259.8,343.5 259.8,345.2 260.8,345.2 261.8,345.2 261.8,347.8 263.8,347.8 263.8,350.5 265.7,350.5 265.7,353.1 266.7,353.1 270.7,353.9 271.7,353.9 271.7,356.7 273.6,356.7 273.6,359.5 274.6,359.5 276.2,359.5 276.2,360.6 279.6,360.6 279.6,361.7 282.9,361.7 282.9,362.8 284.5,362.8 286.0,362.8 286.0,363.8 288.9,363.8 288.9,364.8 290.4,364.8 291.4,364.8 291.4,366.8 293.4,366.8 293.4,368.8 294.4,368.8 295.4,368.8 295.4,370.8 297.3,370.8 297.3,372.7 298.3,372.7 299.1,372.7 299.1,374.7 300.6,374.7 300.6,376.7 301.3,376.7 302.8,376.7 302.8,377.0 305.8,377.0 305.8,377.3 308.7,377.3 308.7,377.6 310.2,377.6 311.5,377.6 311.5,378.1 314.1,378.1 314.1,378.7 316.8,378.7 316.8,379.2 318.1,379.2 319.6,379.2 319.6,379.9 322.5,379.9 322.5,380.6 324.0,380.6 325.4,380.6 325.4,380.8 328.1,380.8 328.1,381.0 330.9,381.0 330.9,381.2 333.7,381.2 333.7,381.4 336.4,381.4 336.4,381.6 337.8,381.6 339.1,381.6 339.1,382.6 341.8,382.6 341.8,383.6 344.4,383.6 344.4,384.6 345.7,384.6 347.2,384.6 347.2,385.4 350.1,385.4 350.1,386.1 351.6,386.1 357.6,386.5 359.1,386.5 359.1,388.0 362.0,388.0 362.0,389.5 363.5,389.5 364.5,389.5 364.5,391.6 366.4,391.6 366.4,393.8 367.4,393.8 368.7,393.8 368.7,395.0 371.4,395.0 371.4,396.2 374.0,396.2 374.0,397.4 375.3,397.4 385.0,397.4 388.9,397.9 390.2,397.9 390.2,398.4 392.9,398.4 392.9,399.0 395.5,399.0 395.5,399.5 396.8,399.5 625.6,400.0" fill="none" stroke="#000000" stroke-width="1.5" stroke-linejoin="miter"/>
<path d="M238.9 255.1v5.5M251.6 263.4v5.5M258.1 266.2v5.5M267.3 271.3v5.5M273.4 273.9v5.5M281.9 277.4v5.5M284.4 278.4v5.5M285.9 278.7v5.5M289.1 279.3v5.5M291.4 279.7v5.5M292.9 280.0v5.5M296.0 280.5v5.5M298.1 280.8v5.5M300.6 281.1v5.5M302.5 281.4v5.5M305.3 281.7v5.5M307.6 282.1v5.5M308.9 282.4v5.5M311.3 283.2v5.5M314.4 284.3v5.5M317.1 285.2v5.5M318.5 285.6v5.5M321.0 286.5v5.5M323.5 287.3v5.5M325.5 287.9v5.5M327.8 288.7v5.5M330.0 289.4v5.5M332.4 290.2v5.5M335.0 290.8v5.5M336.9 291.3v5.5M339.3 291.9v5.5M342.2 292.7v5.5M343.4 293.0v5.5M346.5 293.5v5.5M349.0 293.9v5.5M350.7 294.2v5.5M352.9 294.6v5.5M356.0 295.2v5.5M357.5 295.5v5.5M359.8 296.1v5.5M362.4 296.7v5.5M365.1 297.1v5.5M366.6 297.3v5.5M369.2 297.5v5.5M371.5 297.8v5.5M374.5 298.1v5.5M376.2 298.4v5.5M379.1 298.9v5.5M380.4 299.2v5.5M383.0 299.6v5.5M385.7 300.1v5.5M388.3 300.6v5.5M390.0 301.2v5.5M392.0 302.6v5.5M394.2 302.6v5.5M397.0 302.6v5.5M398.9 302.6v5.5M402.0 302.6v5.5M404.4 302.6v5.5M405.8 302.6v5.5M408.2 302.6v5.5M411.2 302.6v5.5M413.3 302.6v5.5M415.8 302.6v5.5M417.5 302.6v5.5M419.5 302.6v5.5M422.0 302.6v5.5M425.0 302.6v5.5M426.6 302.6v5.5M430.6 305.2v5.5M434.8 305.2v5.5M438.8 305.2v5.5M442.8 305.2v5.5M448.0 305.2v5.5M450.2 305.2v5.5M453.8 305.2v5.5M460.1 305.2v5.5M463.9 305.2v5.5" stroke="#209020" stroke-width="1" opacity="0.65" fill="none"/>
<polyline points="111.5,126.9 112.9,126.9 112.9,127.2 115.7,127.2 115.7,127.6 118.4,127.6 118.4,127.9 119.8,127.9 123.8,129.9 124.8,129.9 124.8,131.9 126.7,131.9 126.7,133.8 127.7,133.8 128.7,133.8 128.7,136.3 130.7,136.3 130.7,138.8 131.7,138.8 132.7,138.8 132.7,141.8 134.6,141.8 134.6,144.7 135.6,144.7 136.6,144.7 136.6,147.6 138.6,147.6 138.6,150.6 139.6,150.6 140.6,150.6 140.6,153.6 142.5,153.6 142.5,156.6 143.5,156.6 144.5,156.6 144.5,159.1 146.5,159.1 146.5,161.5 147.5,161.5 148.2,161.5 148.2,163.5 149.8,163.5 149.8,165.5 150.5,165.5 151.5,165.5 151.5,168.7 153.5,168.7 153.5,171.8 154.5,171.8 155.2,171.8 155.2,174.4 156.8,174.4 156.8,177.0 157.5,177.0 158.1,177.0 158.1,179.7 159.2,179.7 159.2,182.3 159.8,182.3 162.0,185.3 164.3,187.6 165.8,191.3 167.3,194.3 169.5,197.3 172.6,200.3 175.6,203.3 177.9,207.1 178.8,207.1 178.8,209.9 180.5,209.9 180.5,212.7 181.3,212.7 182.4,212.7 182.4,214.9 184.7,214.9 184.7,217.2 185.8,217.2 186.9,217.2 186.9,219.3 189.2,219.3 189.2,221.4 191.5,221.4 191.5,223.5 192.6,223.5 193.5,223.5 193.5,225.2 195.4,225.2 195.4,226.8 197.3,226.8 197.3,228.5 198.2,228.5 200.4,229.2 201.8,229.2 201.8,231.3 204.6,231.3 204.6,233.5 206.0,233.5 207.2,233.5 207.2,235.1 209.6,235.1 209.6,236.8 211.9,236.8 211.9,238.4 213.1,238.4 214.5,238.4 214.5,239.4 217.3,239.4 217.3,240.5 218.7,240.5 220.1,240.5 220.1,242.6 222.9,242.6 222.9,244.7 224.3,244.7 225.4,244.7 225.4,247.2 227.5,247.2 227.5,249.7 228.6,249.7 230.0,249.7 230.0,251.4 232.8,251.4 232.8,253.2 234.2,253.2 235.1,253.2 235.1,255.1 237.1,255.1 237.1,256.9 238.9,256.9 238.9,258.8 239.9,258.8 241.3,258.8 241.3,260.6 244.1,260.6 244.1,262.4 245.5,262.4 246.7,262.4 246.7,263.9 249.2,263.9 249.2,265.5 251.7,265.5 251.7,267.0 252.9,267.0 254.2,267.0 254.2,268.0 256.9,268.0 256.9,269.0 259.5,269.0 259.5,270.0 260.8,270.0 262.1,270.0 262.1,271.6 264.8,271.6 264.8,273.3 267.4,273.3 267.4,274.9 268.7,274.9 270.0,274.9 270.0,275.9 272.6,275.9 272.6,276.9 275.3,276.9 275.3,277.9 276.6,277.9 277.9,277.9 277.9,279.0 280.6,279.0 280.6,280.1 283.2,280.1 283.2,281.2 284.5,281.2 286.1,281.2 286.1,281.8 289.4,281.8 289.4,282.4 292.8,282.4 292.8,283.0 294.4,283.0 295.8,283.0 295.8,283.4 298.5,283.4 298.5,283.8 301.3,283.8 301.3,284.1 304.1,284.1 304.1,284.5 306.8,284.5 306.8,284.9 308.2,284.9 309.7,284.9 309.7,285.9 312.6,285.9 312.6,286.9 315.6,286.9 315.6,287.9 318.5,287.9 318.5,288.9 320.0,288.9 321.5,288.9 321.5,289.9 324.5,289.9 324.5,290.9 327.4,290.9 327.4,291.8 330.4,291.8 330.4,292.8 331.9,292.8 333.4,292.8 333.4,293.6 336.3,293.6 336.3,294.3 339.3,294.3 339.3,295.1 342.2,295.1 342.2,295.8 343.7,295.8 345.2,295.8 345.2,296.3 348.2,296.3 348.2,296.8 351.1,296.8 351.1,297.3 354.1,297.3 354.1,297.8 355.6,297.8 356.9,297.8 356.9,298.4 359.6,298.4 359.6,299.1 362.2,299.1 362.2,299.7 363.5,299.7 365.1,299.7 365.1,300.0 368.4,300.0 368.4,300.4 371.8,300.4 371.8,300.7 373.4,300.7 374.8,300.7 374.8,301.2 377.8,301.2 377.8,301.7 380.6,301.7 380.6,302.2 383.6,302.2 383.6,302.7 385.0,302.7 386.2,302.7 386.2,303.2 388.7,303.2 388.7,303.7 389.9,303.7 390.9,305.3 426.5,305.3 429.4,308.0 464.0,308.0" fill="none" stroke="#008000" stroke-width="1.5" stroke-linejoin="miter"/>
<path d="M232.9 222.9v5.5M239.6 225.8v5.5M252.7 228.2v5.5M262.6 231.5v5.5M268.3 233.2v5.5M281.5 236.0v5.5M292.0 238.1v5.5M301.0 240.2v5.5M310.1 242.5v5.5M317.7 244.2v5.5M319.8 244.5v5.5M321.7 244.8v5.5M323.5 245.0v5.5M326.1 245.3v5.5M327.7 245.5v5.5M330.4 246.0v5.5M331.5 246.1v5.5M334.5 246.6v5.5M336.2 246.9v5.5M338.5 247.3v5.5M340.5 247.6v5.5M342.5 247.9v5.5M344.1 248.2v5.5M345.4 248.4v5.5M348.3 248.7v5.5M349.6 248.8v5.5M351.8 249.1v5.5M354.2 249.3v5.5M356.0 249.4v5.5M357.9 249.4v5.5M360.5 249.4v5.5M362.1 249.4v5.5M363.8 249.4v5.5M365.7 249.4v5.5M368.4 249.8v5.5M370.0 250.3v5.5M372.3 251.1v5.5M373.8 251.5v5.5M375.6 251.5v5.5M378.0 251.5v5.5M380.4 251.5v5.5M381.6 251.5v5.5M384.4 251.5v5.5M386.5 251.6v5.5M388.4 251.6v5.5M390.4 251.7v5.5M391.4 251.7v5.5M394.2 251.8v5.5M396.4 251.9v5.5M397.5 251.9v5.5M399.7 252.0v5.5M401.7 252.0v5.5M404.0 252.1v5.5M405.9 252.1v5.5M408.9 257.5v5.5M414.2 257.6v5.5M416.7 257.7v5.5M421.3 257.8v5.5M426.0 257.9v5.5M430.5 257.9v5.5M434.8 257.9v5.5M441.8 257.9v5.5M446.0 257.9v5.5" stroke="#ff2020" stroke-width="1" opacity="0.7" fill="none"/>
<polyline points="111.5,126.9 112.9,126.9 112.9,127.2 115.7,127.2 115.7,127.6 118.4,127.6 118.4,127.9 119.8,127.9 123.8,129.9 124.8,129.9 124.8,131.9 126.7,131.9 126.7,133.8 127.7,133.8 128.7,133.8 128.7,136.3 130.7,136.3 130.7,138.8 131.7,138.8 132.7,138.8 132.7,141.8 134.6,141.8 134.6,144.7 135.6,144.7 136.6,144.7 136.6,147.6 138.6,147.6 138.6,150.6 139.6,150.6 140.6,150.6 140.6,153.6 142.5,153.6 142.5,156.6 143.5,156.6 144.5,156.6 144.5,159.1 146.5,159.1 146.5,161.5 147.5,161.5 149.8,163.8 150.4,163.8 150.4,166.7 151.7,166.7 151.7,169.5 152.3,169.5 153.1,169.5 153.1,172.2 154.6,172.2 154.6,174.8 155.3,174.8 157.5,178.5 159.8,179.7 162.8,180.8 164.3,183.0 167.3,184.5 170.3,186.4 172.6,187.6 174.8,190.6 177.1,192.4 179.3,193.2 181.6,195.8 184.6,197.3 187.6,198.5 190.3,200.5 191.4,200.5 191.4,202.0 193.7,202.0 193.7,203.5 194.8,203.5 195.9,203.5 195.9,204.8 198.2,204.8 198.2,206.0 199.3,206.0 202.7,206.9 203.8,206.9 203.8,209.8 206.1,209.8 206.1,212.7 207.2,212.7 208.6,212.7 208.6,213.6 211.5,213.6 211.5,214.4 212.9,214.4 216.3,217.8 217.7,217.8 217.7,218.9 220.5,218.9 220.5,220.1 221.9,220.1 223.3,220.1 223.3,222.1 226.1,222.1 226.1,224.0 227.5,224.0 228.9,224.0 228.9,224.8 231.8,224.8 231.8,225.7 233.2,225.7 234.6,225.7 234.6,227.1 237.4,227.1 237.4,228.5 238.8,228.5 245.0,229.1 246.7,229.1 246.7,229.9 249.9,229.9 249.9,230.7 253.2,230.7 253.2,231.5 254.9,231.5 256.5,231.5 256.5,232.7 259.8,232.7 259.8,233.8 263.1,233.8 263.1,235.0 264.7,235.0 266.0,235.0 266.0,235.7 268.6,235.7 268.6,236.3 271.3,236.3 271.3,237.0 272.6,237.0 274.1,237.0 274.1,237.6 277.1,237.6 277.1,238.2 280.0,238.2 280.0,238.8 283.0,238.8 283.0,239.4 284.5,239.4 286.0,239.4 286.0,240.0 288.9,240.0 288.9,240.6 291.9,240.6 291.9,241.1 294.8,241.1 294.8,241.7 296.3,241.7 297.9,241.7 297.9,242.6 301.2,242.6 301.2,243.4 304.6,243.4 304.6,244.3 306.2,244.3 307.5,244.3 307.5,245.0 310.1,245.0 310.1,245.6 312.8,245.6 312.8,246.3 314.1,246.3 315.6,246.3 315.6,246.8 318.5,246.8 318.5,247.3 320.0,247.3 321.3,247.3 321.3,247.6 323.9,247.6 323.9,248.0 326.6,248.0 326.6,248.3 327.9,248.3 329.2,248.3 329.2,248.7 331.9,248.7 331.9,249.2 334.5,249.2 334.5,249.6 335.8,249.6 337.4,249.6 337.4,250.1 340.8,250.1 340.8,250.7 344.1,250.7 344.1,251.2 345.7,251.2 347.4,251.2 347.4,251.5 350.6,251.5 350.6,251.9 354.0,251.9 354.0,252.2 355.6,252.2 367.4,252.2 368.9,252.2 368.9,253.2 371.9,253.2 371.9,254.2 373.4,254.2 385.0,254.3 406.7,254.9 406.9,254.9 406.9,257.6 407.4,257.6 407.4,260.2 407.7,260.2 424.5,260.6 448.2,260.6" fill="none" stroke="#ff0000" stroke-width="1.5" stroke-linejoin="miter"/>
<polyline points="150.5,138.2 155.0,139.6 159.0,141.0 163.0,142.1 168.0,143.0 181.3,146.3 192.6,150.8 203.9,154.7 215.1,157.6 226.4,160.4 237.7,162.1 250.0,163.8 256.8,165.0 264.7,166.4 270.7,169.0 284.5,171.0 294.4,172.3 300.3,174.3 308.2,174.8 320.0,175.2 326.0,175.4 327.0,177.2 333.5,177.8 334.5,180.8" fill="none" stroke="#2a3aff" stroke-width="4" opacity="0.35"/>
<path d="M117.0 124.9v5.5M122.0 125.3v5.5M125.6 126.9v5.5M129.6 127.8v5.5M133.6 129.0v5.5M138.4 130.4v5.5M140.1 131.1v5.5M142.0 131.9v5.5M144.0 132.8v5.5M146.4 133.8v5.5M148.3 134.6v5.5M151.1 135.6v5.5M153.5 136.4v5.5M155.2 136.9v5.5M157.0 137.6v5.5M159.4 138.4v5.5M161.8 139.0v5.5M164.3 139.6v5.5M165.3 139.8v5.5M166.4 140.0v5.5M168.3 140.3v5.5M169.6 140.6v5.5M170.9 141.0v5.5M172.4 141.3v5.5M174.0 141.7v5.5M175.7 142.2v5.5M176.9 142.5v5.5M178.7 142.9v5.5M180.0 143.2v5.5M181.3 143.5v5.5M183.0 144.2v5.5M184.7 144.9v5.5M185.6 145.3v5.5M187.4 146.0v5.5M188.9 146.6v5.5M190.8 147.3v5.5M192.4 148.0v5.5M193.4 148.3v5.5M195.4 149.0v5.5M196.8 149.5v5.5M197.8 149.8v5.5M199.5 150.4v5.5M200.7 150.8v5.5M202.8 151.6v5.5M204.1 152.0v5.5M205.8 152.5v5.5M207.3 152.8v5.5M208.7 153.2v5.5M210.2 153.6v5.5M211.6 153.9v5.5M212.6 154.2v5.5M214.6 154.7v5.5M215.6 155.0v5.5M217.2 155.4v5.5M219.2 155.9v5.5M220.1 156.1v5.5M221.6 156.5v5.5M223.1 156.8v5.5M225.3 157.4v5.5M226.2 157.6v5.5M227.6 157.8v5.5M229.8 158.2v5.5M230.7 158.3v5.5M232.8 158.6v5.5M234.2 158.8v5.5M235.8 159.1v5.5M237.4 159.3v5.5M238.6 159.5v5.5M240.3 159.7v5.5M241.1 159.8v5.5M243.2 160.1v5.5M244.5 160.3v5.5M246.2 160.5v5.5M247.1 160.7v5.5M249.2 160.9v5.5M250.9 161.2v5.5M251.6 161.3v5.5M253.3 161.6v5.5M255.1 161.9v5.5M256.8 162.2v5.5M257.8 162.4v5.5M259.2 162.7v5.5M260.8 163.0v5.5M262.6 163.3v5.5M264.2 163.6v5.5M265.4 164.0v5.5M266.9 164.6v5.5M268.4 165.3v5.5M269.9 165.9v5.5M271.4 166.4v5.5M272.6 166.5v5.5M274.5 166.8v5.5M276.4 167.1v5.5M277.4 167.2v5.5M279.2 167.5v5.5M280.2 167.6v5.5M282.2 167.9v5.5M283.7 168.1v5.5M285.2 168.3v5.5M286.5 168.5v5.5M288.0 168.7v5.5M289.6 168.9v5.5M291.4 169.2v5.5M292.2 169.3v5.5M293.6 169.4v5.5M295.7 170.0v5.5M297.4 170.6v5.5M298.5 170.9v5.5M299.9 171.4v5.5M301.7 171.6v5.5M302.7 171.7v5.5M304.3 171.8v5.5M305.7 171.9v5.5M307.6 172.0v5.5M308.8 172.1v5.5M310.3 172.1v5.5M312.2 172.2v5.5M313.9 172.2v5.5M314.8 172.3v5.5M316.7 172.3v5.5M317.9 172.4v5.5M319.8 172.4v5.5M321.1 172.5v5.5M322.3 172.5v5.5M323.7 172.6v5.5M325.1 172.6v5.5M327.0 174.4v5.5M328.4 174.6v5.5M329.7 174.7v5.5M331.4 174.9v5.5M332.8 175.0v5.5M334.7 178.1v5.5M335.7 178.1v5.5M337.9 178.1v5.5M339.0 178.1v5.5M340.6 178.1v5.5M342.0 178.1v5.5M343.8 178.1v5.5M345.3 178.1v5.5M346.6 178.1v5.5M348.0 178.1v5.5M349.7 178.1v5.5M350.6 178.1v5.5M352.8 178.1v5.5M356.4 178.1v5.5M359.8 178.1v5.5" stroke="#1a2aff" stroke-width="1" opacity="0.7" fill="none"/>
<path d="M111.5 124.2v5.5" stroke="#3040ff" stroke-width="1" opacity="0.7"/>
<polyline points="111.5,127.2 116.5,127.6 121.5,127.8 125.0,129.5 129.0,130.4 133.0,131.6 137.0,132.6 141.0,134.2 142.2,134.2 142.2,135.3 144.8,135.3 144.8,136.4 146.0,136.4 150.5,138.2 155.0,139.6 159.0,141.0 163.0,142.1 164.2,142.1 164.2,142.6 166.8,142.6 166.8,143.0 168.0,143.0 169.3,143.0 169.3,143.7 172.0,143.7 172.0,144.3 174.7,144.3 174.7,145.0 177.3,145.0 177.3,145.6 180.0,145.6 180.0,146.3 181.3,146.3 182.7,146.3 182.7,147.4 185.5,147.4 185.5,148.6 188.4,148.6 188.4,149.7 191.2,149.7 191.2,150.8 192.6,150.8 194.0,150.8 194.0,151.8 196.8,151.8 196.8,152.8 199.7,152.8 199.7,153.7 202.5,153.7 202.5,154.7 203.9,154.7 205.3,154.7 205.3,155.4 208.1,155.4 208.1,156.1 210.9,156.1 210.9,156.9 213.7,156.9 213.7,157.6 215.1,157.6 216.5,157.6 216.5,158.3 219.3,158.3 219.3,159.0 222.2,159.0 222.2,159.7 225.0,159.7 225.0,160.4 226.4,160.4 227.8,160.4 227.8,160.8 230.6,160.8 230.6,161.2 233.5,161.2 233.5,161.7 236.3,161.7 236.3,162.1 237.7,162.1 239.2,162.1 239.2,162.5 242.3,162.5 242.3,162.9 245.4,162.9 245.4,163.4 248.5,163.4 248.5,163.8 250.0,163.8 251.7,163.8 251.7,164.4 255.1,164.4 255.1,165.0 256.8,165.0 258.1,165.0 258.1,165.5 260.8,165.5 260.8,165.9 263.4,165.9 263.4,166.4 264.7,166.4 266.2,166.4 266.2,167.7 269.2,167.7 269.2,169.0 270.7,169.0 272.1,169.0 272.1,169.4 274.8,169.4 274.8,169.8 277.6,169.8 277.6,170.2 280.4,170.2 280.4,170.6 283.1,170.6 283.1,171.0 284.5,171.0 286.1,171.0 286.1,171.4 289.4,171.4 289.4,171.9 292.8,171.9 292.8,172.3 294.4,172.3 295.9,172.3 295.9,173.3 298.8,173.3 298.8,174.3 300.3,174.3 308.2,174.8 320.0,175.2 326.0,175.4 327.0,177.2 328.6,177.2 328.6,177.5 331.9,177.5 331.9,177.8 333.5,177.8 334.5,180.8 360.0,180.8" fill="none" stroke="#0000ff" stroke-width="2" stroke-linejoin="miter"/>
<text x="365.13" y="170.45" class="an" fill="#0000ff" textLength="138.97" lengthAdjust="spacingAndGlyphs" stroke="#0000ff" stroke-width="0.5">Imatinib, 2002 – 2012 (CML IV)</text><text x="365.49" y="182.65" class="an" fill="#0000ff" textLength="87.06" lengthAdjust="spacingAndGlyphs" stroke="#0000ff" stroke-width="0.5">5-year survival 90%</text><text x="365.19" y="195.35" class="an" fill="#0000ff" textLength="93.47" lengthAdjust="spacingAndGlyphs" stroke="#0000ff" stroke-width="0.5">10-year survival 84%</text><text x="413.56" y="226.85" class="an" fill="#ff0000" textLength="104.41" lengthAdjust="spacingAndGlyphs" stroke="#ff0000" stroke-width="0.5">IFN or SCT, 1997 – 2003</text><text x="413.71" y="239.25" class="an" fill="#ff0000" textLength="133.06" lengthAdjust="spacingAndGlyphs" stroke="#ff0000" stroke-width="0.5">(CML IIIA) 5-year survival 71%</text><text x="413.6" y="251.15" class="an" fill="#ff0000" textLength="91.86" lengthAdjust="spacingAndGlyphs" stroke="#ff0000" stroke-width="0.5">10-year survival 61%</text><text x="469.55" y="288.25" class="an" fill="#006f00" textLength="145.85" lengthAdjust="spacingAndGlyphs" stroke="#006f00" stroke-width="0.5">IFN or SCT, 1995 – 2001 (CML III)</text><text x="469.89" y="300.45" class="an" fill="#006f00" textLength="87.26" lengthAdjust="spacingAndGlyphs" stroke="#006f00" stroke-width="0.5">5-year survival 63%</text><text x="469.59" y="312.35" class="an" fill="#006f00" textLength="92.97" lengthAdjust="spacingAndGlyphs" stroke="#006f00" stroke-width="0.5">10-year survival 48%</text><text x="510.64" y="338.35" class="an" fill="#ff14c8" textLength="101.83" lengthAdjust="spacingAndGlyphs" stroke="#ff14c8" stroke-width="0.5">IFN, ± HU, 1986 – 1994</text><text x="511.0" y="351.05" class="an" fill="#ff14c8" textLength="85.75" lengthAdjust="spacingAndGlyphs" stroke="#ff14c8" stroke-width="0.5">5-year survival 53%</text><text x="510.69" y="363.55" class="an" fill="#ff14c8" textLength="92.36" lengthAdjust="spacingAndGlyphs" stroke="#ff14c8" stroke-width="0.5">10-year survival 27%</text><text x="457.33" y="350.35" class="an" fill="#000000" textLength="48.62" lengthAdjust="spacingAndGlyphs" stroke="#000000" stroke-width="0.5">(CML I, II)</text><text x="387.75" y="387.85" class="an" fill="#000000" textLength="259.02" lengthAdjust="spacingAndGlyphs" stroke="#000000" stroke-width="0.5">Hydroxyurea, 1983 – 1994, 5 yr surv. 44%, 10 yr surv. 18%</text><text x="343.55" y="427.15" class="an" fill="#0000ff" textLength="289.82" lengthAdjust="spacingAndGlyphs" stroke="#0000ff" stroke-width="0.5">Busulfan, 1983 – 1994, 5-year survival 38%, 10-year survival 11%</text><text x="526.67" y="141.3" class="nn" fill="#000000" textLength="54.39" lengthAdjust="spacingAndGlyphs" stroke="#000000" stroke-width="0.5">n = 3682</text>
</svg>
</body></html>
